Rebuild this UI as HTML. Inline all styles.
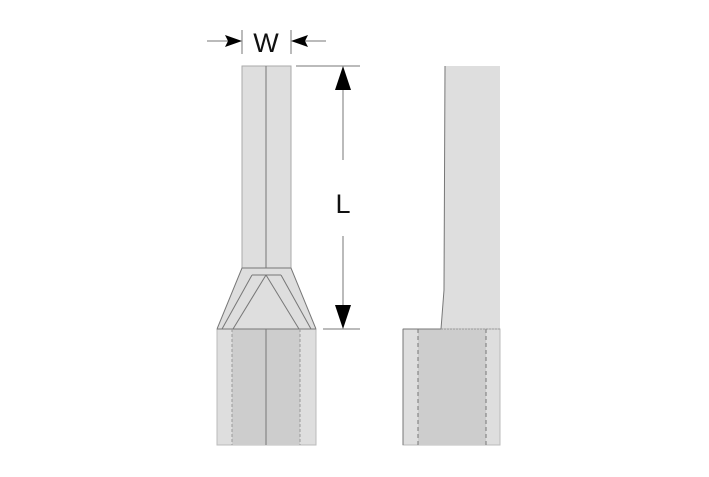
<!DOCTYPE html>
<html><head><style>body{margin:0;background:#fff}</style></head><body>
<svg width="709" height="472" viewBox="0 0 709 472" xmlns="http://www.w3.org/2000/svg">
<g stroke="#777" stroke-width="1">
<rect x="242" y="66" width="49" height="210" fill="#dedede" stroke="#aaa"/>
<line x1="266" y1="66" x2="266" y2="275"/>
<polygon points="242,268 291,268 316,329 217,329" fill="#dedede"/>
<line x1="252" y1="275" x2="281" y2="275"/>
<line x1="252" y1="275" x2="222" y2="329"/>
<line x1="281" y1="275" x2="311" y2="329"/>
<line x1="266" y1="275" x2="233" y2="329"/>
<line x1="266" y1="275" x2="299" y2="329"/>
<rect x="217" y="329" width="99" height="116" fill="#dedede" stroke="#bbb"/>
<rect x="232" y="329" width="68" height="116" fill="#cdcdcd" stroke="none"/>
<line x1="217" y1="329" x2="316" y2="329"/>
<line x1="266" y1="329" x2="266" y2="445"/>
<line x1="232" y1="329" x2="232" y2="445" stroke-dasharray="3,2" stroke="#999"/>
<line x1="300" y1="329" x2="300" y2="445" stroke-dasharray="3,2" stroke="#999"/>
<polygon points="445,66 500,66 500,329 441,329 444,290" fill="#dedede" stroke="none"/>
<polyline points="445,66 444,290 441,329" fill="none"/>
<rect x="403" y="329" width="97" height="116" fill="#dedede" stroke="#bbb"/>
<rect x="418" y="329" width="68" height="116" fill="#cdcdcd" stroke="none"/>
<line x1="403" y1="329" x2="441" y2="329"/>
<line x1="441" y1="329" x2="500" y2="329" stroke-dasharray="2,1" stroke="#999"/>
<line x1="403" y1="329" x2="403" y2="445"/>
<line x1="418" y1="329" x2="418" y2="445" stroke-dasharray="4,3"/>
<line x1="486" y1="329" x2="486" y2="445" stroke-dasharray="4,3"/>
</g>
<g stroke="#777" stroke-width="1">
<line x1="242" y1="30" x2="242" y2="54"/>
<line x1="291" y1="30" x2="291" y2="54"/>
<line x1="207" y1="41" x2="230" y2="41"/>
<line x1="303" y1="41" x2="326" y2="41"/>
<line x1="296" y1="66" x2="360" y2="66"/>
<line x1="323" y1="329" x2="360" y2="329"/>
<line x1="343" y1="85" x2="343" y2="160"/>
<line x1="343" y1="236" x2="343" y2="310"/>
</g>
<g fill="#000">
<polygon points="242,41 225,35 228,41 225,47"/>
<polygon points="291,41 308,35 305,41 308,47"/>
<polygon points="343,66 335,90 351,90"/>
<polygon points="343,329 335,305 351,305"/>
</g>
<text x="266" y="52" font-family="Liberation Sans, sans-serif" font-size="27" text-anchor="middle" fill="#111">W</text>
<text x="343" y="213" font-family="Liberation Sans, sans-serif" font-size="27" text-anchor="middle" fill="#111">L</text>
</svg>
</body></html>
